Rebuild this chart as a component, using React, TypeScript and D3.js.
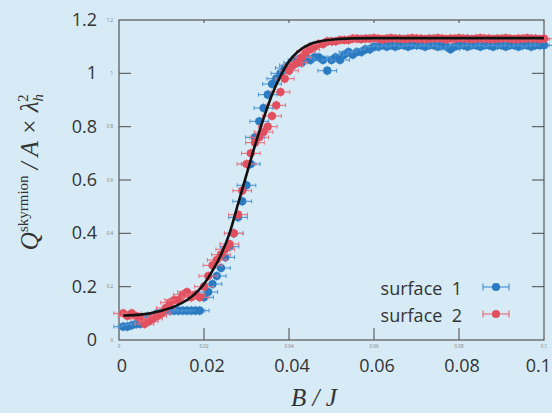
import React from "react";
import * as d3 from "d3";

// B/J in thousandths (0.001 ... 0.100)
const bjMilli = [
  1, 2, 3, 4, 5, 6, 7, 8, 9, 10, 11, 12, 13, 14, 15, 16, 17, 18, 19, 20,
  21, 22, 23, 24, 25, 26, 27, 28, 29, 30, 31, 32, 33, 34, 35, 36, 37, 38, 39, 40,
  41, 42, 43, 44, 45, 46, 47, 48, 49, 50, 51, 52, 53, 54, 55, 56, 57, 58, 59, 60,
  61, 62, 63, 64, 65, 66, 67, 68, 69, 70, 71, 72, 73, 74, 75, 76, 77, 78, 79, 80,
  81, 82, 83, 84, 85, 86, 87, 88, 89, 90, 91, 92, 93, 94, 95, 96, 97, 98, 99, 100,
];

const surface1 = [
  0.05, 0.05, 0.055, 0.06, 0.06, 0.07, 0.08, 0.09, 0.1, 0.1,
  0.11, 0.11, 0.11, 0.11, 0.11, 0.11, 0.11, 0.11, 0.11, 0.16,
  0.18, 0.21, 0.24, 0.27, 0.31, 0.35, 0.4, 0.46, 0.52, 0.58,
  0.66, 0.76, 0.82, 0.87, 0.92, 0.96, 0.98, 1.0, 1.02, 1.03,
  1.04, 1.05, 1.04, 1.06, 1.05, 1.06, 1.06, 1.05, 1.01, 1.05,
  1.06, 1.05, 1.07, 1.08, 1.07, 1.08, 1.08, 1.09, 1.09, 1.1,
  1.1, 1.105, 1.1, 1.105, 1.1, 1.105, 1.105, 1.1, 1.105, 1.105,
  1.105, 1.1, 1.105, 1.105, 1.1, 1.105, 1.1, 1.09, 1.1, 1.105,
  1.105, 1.1, 1.105, 1.105, 1.1, 1.105, 1.105, 1.1, 1.105, 1.105,
  1.1, 1.105, 1.105, 1.1, 1.105, 1.105, 1.1, 1.105, 1.105, 1.105,
];

const surface2 = [
  0.1, 0.09, 0.1, 0.09, 0.08, 0.06, 0.07, 0.08, 0.09, 0.1,
  0.12, 0.14, 0.15, 0.15, 0.17, 0.18, 0.16, 0.17, 0.16, 0.2,
  0.24, 0.28, 0.3, 0.32, 0.34, 0.36, 0.4, 0.47, 0.56, 0.66,
  0.7, 0.74, 0.76, 0.78, 0.8, 0.84, 0.88, 0.93, 0.98, 1.01,
  1.03, 1.04, 1.06, 1.08, 1.09, 1.1, 1.11, 1.11, 1.12, 1.12,
  1.12, 1.125, 1.125, 1.125, 1.13, 1.13, 1.128, 1.13, 1.13, 1.132,
  1.13, 1.128, 1.13, 1.132, 1.13, 1.13, 1.128, 1.13, 1.132, 1.13,
  1.13, 1.128, 1.13, 1.13, 1.132, 1.13, 1.128, 1.13, 1.13, 1.132,
  1.13, 1.13, 1.128, 1.13, 1.132, 1.13, 1.13, 1.128, 1.13, 1.13,
  1.132, 1.13, 1.128, 1.13, 1.13, 1.132, 1.13, 1.13, 1.128, 1.13,
];

const xErr = 0.0022;
const yErr = 0.018;

// fitted curve
const fitX = [0.001, 0.005, 0.01, 0.013, 0.016, 0.018, 0.02, 0.022, 0.024, 0.026, 0.028, 0.03, 0.032, 0.034, 0.036, 0.038, 0.04, 0.042, 0.045, 0.05, 0.055, 0.06, 0.08, 0.1];
const fitY = [0.092, 0.095, 0.11, 0.125, 0.15, 0.175, 0.21, 0.26, 0.32, 0.4, 0.51, 0.62, 0.73, 0.83, 0.92, 0.99, 1.045, 1.08, 1.11, 1.126, 1.131, 1.132, 1.132, 1.132];

const xTicks = [0, 0.02, 0.04, 0.06, 0.08, 0.1];
const yTicks = [0, 0.2, 0.4, 0.6, 0.8, 1, 1.2];
const legendLabels = ["surface  1", "surface  2"];

const W = 552;
const H = 413;
const plot = { left: 119, right: 544, top: 20, bottom: 340 };
const bg = "#d6ebf6";
const blue = "#2a7bc2";
const red = "#e2505f";
const blueBar = "#4d94d4";
const redBar = "#e9707e";
const sans = "'Open Sans', 'Noto Sans', sans-serif";
const serif = "'Liberation Serif', 'DejaVu Serif', serif";

const fmt = (v: number) => String(+v.toFixed(2));

const xScale = d3.scaleLinear().domain([0, 0.1]).range([plot.left, plot.right]);
const yScale = d3.scaleLinear().domain([0, 1.2]).range([plot.bottom, plot.top]);

function Series({ vals, color, barColor }: { vals: number[]; color: string; barColor: string }) {
  return (
    <g>
      {vals.map((v, i) => {
        const x = bjMilli[i] / 1000;
        const cx = xScale(x);
        const cy = yScale(v);
        const x0 = xScale(x - xErr);
        const x1 = xScale(x + xErr);
        return (
          <g key={i}>
            <line x1={x0} x2={x1} y1={cy} y2={cy} stroke={barColor} strokeWidth={1.1} />
            <line x1={x0} x2={x0} y1={cy - 2} y2={cy + 2} stroke={barColor} strokeWidth={1} />
            <line x1={x1} x2={x1} y1={cy - 2} y2={cy + 2} stroke={barColor} strokeWidth={1} />
            <line x1={cx} x2={cx} y1={yScale(v - yErr)} y2={yScale(v + yErr)} stroke={barColor} strokeWidth={1} />
            <circle cx={cx} cy={cy} r={4.1} fill={color} />
          </g>
        );
      })}
    </g>
  );
}

export default function App() {
  const line = d3
    .line<number>()
    .x((_, i) => xScale(fitX[i]))
    .y((d) => yScale(d))
    .curve(d3.curveMonotoneX);

  const legendColors = [
    [blue, blueBar],
    [red, redBar],
  ];

  return (
    <svg width={W} height={H} style={{ position: "absolute", left: 0, top: 0 }}>
      <rect x={0} y={0} width={W} height={H} fill={bg} />

      {/* frame */}
      <rect
        x={plot.left}
        y={plot.top}
        width={plot.right - plot.left}
        height={plot.bottom - plot.top}
        fill="none"
        stroke="#555"
        strokeWidth={1.2}
      />

      {/* y ticks */}
      {yTicks.map((t) => (
        <g key={"y" + t}>
          {t > 0 && t < 1.2 && (
            <>
              <line x1={plot.left} x2={plot.left + 12} y1={yScale(t)} y2={yScale(t)} stroke="#555" strokeWidth={1.1} />
              <line x1={plot.right} x2={plot.right - 12} y1={yScale(t)} y2={yScale(t)} stroke="#555" strokeWidth={1.1} />
            </>
          )}
          <text x={113} y={yScale(t) + 1.5} fontSize={4.5} fill="#777" textAnchor="end" fontFamily={sans}>
            {fmt(t)}
          </text>
          <text x={97} y={yScale(t) + 6} fontSize={18} fill="#333" textAnchor="end" fontFamily={sans}>
            {fmt(t)}
          </text>
        </g>
      ))}

      {/* x ticks */}
      {xTicks.map((t, i) => (
        <g key={"x" + t}>
          {t > 0 && t < 0.1 && (
            <>
              <line x1={xScale(t)} x2={xScale(t)} y1={plot.bottom} y2={plot.bottom - 12} stroke="#555" strokeWidth={1.1} />
              <line x1={xScale(t)} x2={xScale(t)} y1={plot.top} y2={plot.top + 3} stroke="#555" strokeWidth={1.1} />
            </>
          )}
          <text x={xScale(t)} y={plot.bottom + 8} fontSize={4.5} fill="#777" textAnchor="middle" fontFamily={sans}>
            {fmt(t)}
          </text>
          <text
            x={i === xTicks.length - 1 ? W - 1 : xScale(t) + 3}
            y={372}
            fontSize={18}
            fill="#333"
            textAnchor={i === xTicks.length - 1 ? "end" : "middle"}
            fontFamily={sans}
          >
            {fmt(t)}
          </text>
        </g>
      ))}

      {/* data */}
      <Series vals={surface1} color={blue} barColor={blueBar} />
      <Series vals={surface2} color={red} barColor={redBar} />

      <path d={line(fitY) || ""} fill="none" stroke="#111" strokeWidth={2.6} />

      {/* legend */}
      {legendLabels.map((lab, i) => {
        const y = 287 + i * 27;
        const [c, bc] = legendColors[i];
        return (
          <g key={lab}>
            <text x={462} y={y + 8} fontSize={18} fill="#333" textAnchor="end" fontFamily={sans} xmlSpace="preserve">
              {lab}
            </text>
            <line x1={483} x2={509} y1={y} y2={y} stroke={bc} strokeWidth={1.2} />
            <line x1={483} x2={483} y1={y - 3.5} y2={y + 3.5} stroke={bc} strokeWidth={1.2} />
            <line x1={509} x2={509} y1={y - 3.5} y2={y + 3.5} stroke={bc} strokeWidth={1.2} />
            <circle cx={496} cy={y} r={4.1} fill={c} />
          </g>
        );
      })}

      {/* x title */}
      <text x={314} y={406} fontSize={25} fill="#333" textAnchor="middle" fontFamily={serif} fontStyle="italic">
        B / J
      </text>

      {/* y title */}
      <text
        transform="translate(38,172) rotate(-90)"
        textAnchor="middle"
        fill="#333"
        fontFamily={serif}
        fontSize={25}
      >
        <tspan fontStyle="italic">Q</tspan>
        <tspan fontSize={15} dy={-10}>skyrmion</tspan>
        <tspan dy={10} fontStyle="italic"> / A × λ</tspan>
        <tspan fontSize={15} dy={5} fontStyle="italic">h</tspan>
        <tspan fontSize={15} dy={-15} dx={-8}>2</tspan>
      </text>
    </svg>
  );
}
